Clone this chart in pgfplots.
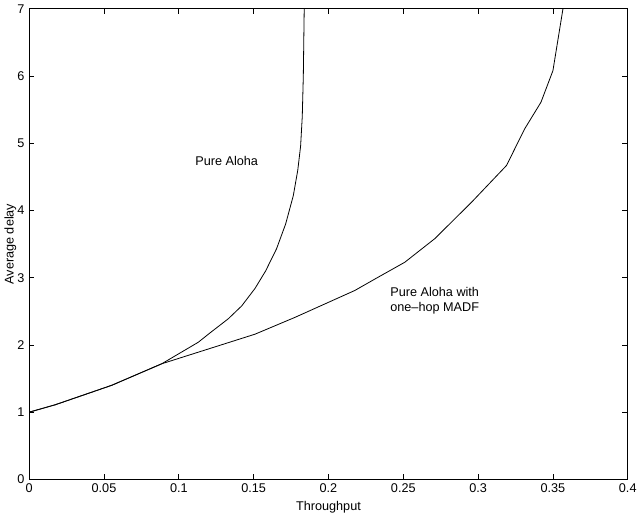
\documentclass[border=0pt]{standalone}
\usepackage{pgfplots}
\pgfplotsset{compat=1.18}
\usepackage{fontspec}
\setmainfont{Liberation Sans}
\begin{document}
\begin{tikzpicture}
\begin{axis}[
  scale only axis,
  width=449pt, height=353pt,
  xmin=0, xmax=0.4,
  ymin=0, ymax=7,
  xtick={0,0.05,...,0.4},
  ytick={0,1,...,7},
  xticklabels={0,0.05,0.1,0.15,0.2,0.25,0.3,0.35,0.4},
  tick align=inside,
  major tick length=4pt,
  /pgf/number format/assume math mode=true,
  tick label style={font=\fontsize{9.5}{11}\selectfont},
  label style={font=\fontsize{9.5}{11}\selectfont},
  xlabel={Throughput},
  ylabel={Average delay},
  xlabel style={yshift=1pt},
  ylabel style={yshift=-6pt},
  axis line style={line width=0.6pt},
  every tick/.style={line width=0.6pt, black},
]
% Pure Aloha
\addplot[black, line width=0.6pt] coordinates {
  (0,1.0) (0.0174,1.11) (0.0552,1.40) (0.0886,1.72) (0.113,2.04)
  (0.1209,2.18) (0.1331,2.39) (0.142,2.58) (0.1509,2.84) (0.158,3.1)
  (0.1653,3.43) (0.1714,3.8) (0.1765,4.22) (0.1795,4.6) (0.1814,4.96)
  (0.1825,5.4) (0.1832,6) (0.1838,7)
};
% Pure Aloha with one-hop MADF
\addplot[black, line width=0.6pt] coordinates {
  (0,1.0) (0.0174,1.11) (0.0552,1.40) (0.0886,1.72) (0.1509,2.16)
  (0.1776,2.41) (0.2176,2.81) (0.231,2.98) (0.251,3.23) (0.271,3.58)
  (0.2955,4.12) (0.319,4.67) (0.331,5.21) (0.342,5.61) (0.350,6.08)
  (0.3567,7)
};
\node[font=\fontsize{9.5}{11}\selectfont] at (axis cs:0.132,4.74) {Pure Aloha};
\node[font=\fontsize{9.5}{11}\selectfont, align=left] at (axis cs:0.271,2.66) {Pure Aloha with\\one--hop MADF};
\end{axis}
\end{tikzpicture}
\end{document}
